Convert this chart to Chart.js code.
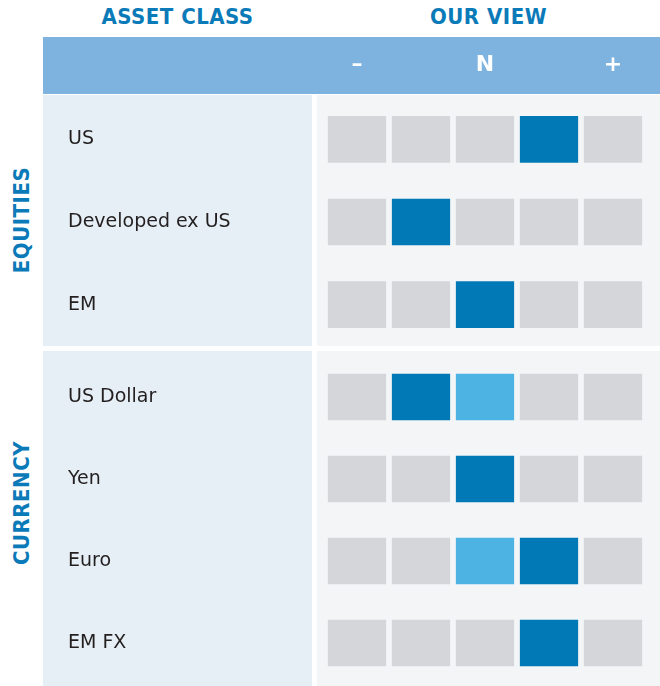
<!DOCTYPE html>
<html>
<head>
<meta charset="utf-8">
<script src="https://cdn.jsdelivr.net/npm/chart.js@4.4.1/dist/chart.umd.min.js"></script>
<style>
  body { margin: 0; background: #fff; }
  #wrap { position: relative; width: 660px; height: 686px; overflow: hidden;
    font-family: 'DejaVu Sans Condensed', 'Liberation Sans Narrow', 'DejaVu Sans', sans-serif; }
  .bg { position: absolute; }
  .head { position: absolute; top: 4px; height: 26px; line-height: 26px; text-align: center;
    font-weight: bold; font-size: 22px; color: #0a7ab8; letter-spacing: 0.5px; }
  .side { position: absolute; width: 250px; height: 30px; line-height: 30px; text-align: center;
    font-weight: bold; font-size: 22px; color: #0a7ab8; letter-spacing: 0.5px;
    transform: rotate(-90deg); transform-origin: 50% 50%; }
  canvas { position: absolute; left: 0; }
</style>
</head>
<body>
<div id="wrap">
  <div class="bg" style="left:43px;top:37px;width:617px;height:57px;background:#7eb3e0"></div>
  <div class="bg" style="left:43px;top:95px;width:269px;height:251px;background:#e6eff5"></div>
  <div class="bg" style="left:43px;top:351px;width:269px;height:335px;background:#e6eff5"></div>
  <div class="bg" style="left:317px;top:95px;width:343px;height:251px;background:#f3f5f7"></div>
  <div class="bg" style="left:317px;top:351px;width:343px;height:335px;background:#f3f5f7"></div>

  <div class="head" style="left:43px;width:269px">ASSET CLASS</div>
  <div class="head" style="left:317px;width:343px">OUR VIEW</div>
  <div class="side" style="left:-103px;top:205px">EQUITIES</div>
  <div class="side" style="left:-103px;top:488px">CURRENCY</div>

  <canvas id="equities" width="660" height="346" style="top:0"></canvas>
  <canvas id="currency" width="660" height="340" style="top:346px"></canvas>
</div>

<script>
// rows of each section
const equityRows = ['US', 'Developed ex US', 'EM'];
const currencyRows = ['US Dollar', 'Yen', 'Euro', 'EM FX'];

// view scale: 5 steps from negative to positive
const viewSteps = [0, 1, 2, 3, 4];
const viewTickPos = [0.5, 2.5, 4.5];
const viewTickLabels = ['–', 'N', '+'];

// current view (step index) per row
const equityView = [3, 1, 2];
const currencyView = [1, 2, 3, 3];
// previous view shown in light blue (null = unchanged)
const equityPrev = [null, null, null];
const currencyPrev = [2, null, 2, null];

const DARK = '#0079b6';
const LIGHT = '#4cb3e3';
const GREY = '#d4d6d9';
const labelFont = { family: "'DejaVu Sans', sans-serif", size: 19 };

function buildDatasets(view, prev) {
  return viewSteps.map(step => ({
    data: view.map(() => [step + 0.05, step + 0.95]),
    backgroundColor: view.map((v, i) => v === step ? DARK : (prev[i] === step ? LIGHT : GREY)),
    barThickness: 46,
    grouped: false,
    borderWidth: 0
  }));
}

function makeChart(id, rows, view, prev, showTop, padTop, padBottom) {
  return new Chart(document.getElementById(id), {
    type: 'bar',
    data: { labels: rows, datasets: buildDatasets(view, prev) },
    options: {
      indexAxis: 'y',
      responsive: false,
      animation: false,
      events: [],
      layout: { padding: { left: 68, right: 15, top: padTop, bottom: padBottom } },
      plugins: { legend: { display: false }, tooltip: { enabled: false } },
      scales: {
        x: {
          type: 'linear', position: 'top', min: 0, max: 5,
          display: showTop,
          grid: { display: false, drawTicks: false },
          border: { display: false },
          afterBuildTicks: s => { s.ticks = viewTickPos.map(v => ({ value: v })); },
          afterFit: s => { if (showTop) s.height = 61; },
          ticks: {
            padding: 20, autoSkip: false, maxRotation: 0, color: '#ffffff',
            font: { family: "'DejaVu Sans', sans-serif", size: 22, weight: 'bold' },
            callback: (v, i) => viewTickLabels[i]
          }
        },
        y: {
          grid: { display: false, drawTicks: false },
          border: { display: false },
          afterFit: s => { s.width = 257; s.paddingTop = 0; s.paddingBottom = 0; },
          ticks: { crossAlign: 'far', padding: 0, color: '#231f20', font: labelFont }
        }
      }
    }
  });
}

makeChart('equities', equityRows, equityView, equityPrev, true, 37, 0);
makeChart('currency', currencyRows, currencyView, currencyPrev, false, 10, 2);
</script>
</body>
</html>
